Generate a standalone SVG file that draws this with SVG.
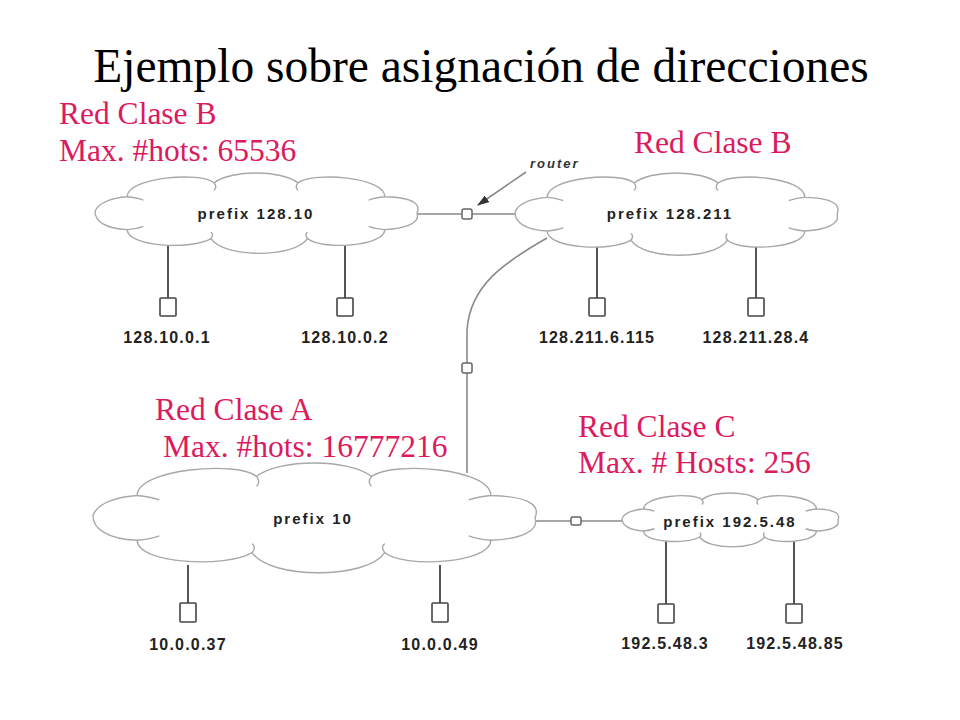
<svg xmlns="http://www.w3.org/2000/svg" width="960" height="720" viewBox="0 0 960 720">
<style>
.title{font-family:"Liberation Serif",serif;font-size:47.5px;fill:#000;text-anchor:middle}
.red{font-family:"Liberation Serif",serif;font-size:31.5px;fill:#dc1a5e}
.cloud{fill:#fff;stroke:#a8a8a8;stroke-width:1.4;vector-effect:non-scaling-stroke}
.crease{fill:none;stroke:#a8a8a8;stroke-width:1.4;vector-effect:non-scaling-stroke}
.pfx{font-family:"Liberation Sans",Arial,sans-serif;font-size:15px;font-weight:bold;letter-spacing:2px;fill:#222;text-anchor:middle}
.ip{font-family:"Liberation Sans",Arial,sans-serif;font-size:16px;font-weight:bold;letter-spacing:1.2px;fill:#222;text-anchor:middle}
.host{fill:#fff;stroke:#444;stroke-width:1.6}
.drop{stroke:#555;stroke-width:2;fill:none}
.link{stroke:#8a8a8a;stroke-width:1.6;fill:none}
.rtr{fill:#fff;stroke:#666;stroke-width:1.5}
.lbl{font-family:"Liberation Sans",Arial,sans-serif;font-size:13px;font-weight:bold;font-style:italic;letter-spacing:2px;fill:#333}
</style>
<defs>
<marker id="ah" markerWidth="12" markerHeight="8" refX="11" refY="4" orient="auto" markerUnits="userSpaceOnUse">
<path d="M0,0 L12,4 L0,8 Z" fill="#333"/>
</marker>
</defs>

<text class="title" x="481" y="82">Ejemplo sobre asignación de direcciones</text>

<g id="connectors">
<path class="link" d="M417,214 L515,214"/>
<path class="link" d="M547,238 C505,262 470,285 467,330 L467,473"/>
<path class="link" d="M535,521 L622,521"/>
<path class="link" d="M526,172 L478,205" stroke="#555" marker-end="url(#ah)"/>
<path class="drop" d="M168,245 V298 M345,245 V298 M597,245 V298 M756,245 V298 M188,565 V603 M440,565 V603 M666,540 V604 M794,540 V604"/>
</g>

<g id="net-128-10">
<g transform="translate(95,173) scale(3.22,0.82)">
<path class="cloud" d="M0,47 C1,35 6,30 10,29 C10,5 33,-2 37,12 C42,-4 58,-4 63,12 C68,-2 90,5 90,29 C100,30 101,40 100,49 C101,60 97,68 90,69 C90,90 70,94 66,80 C62,104 40,104 36,80 C30,94 10,90 10,69 C3,68 0,58 0,47 Z"/>
<path class="crease" d="M37,12 q1,5 0,9 M63,12 q-1,5 0,9 M10,29 q3,1 5,4 M90,29 q-3,1 -5,4 M36,80 q1,-5 0,-8 M66,80 q-1,-5 0,-8 M10,69 q3,-1 5,-4 M90,69 q-3,-1 -5,-4"/>
</g>
<text class="pfx" x="256" y="219">prefix 128.10</text>
</g>

<g id="net-128-211">
<g transform="translate(515,173) scale(3.22,0.84)">
<path class="cloud" d="M0,47 C1,35 6,30 10,29 C10,5 33,-2 37,12 C42,-4 58,-4 63,12 C68,-2 90,5 90,29 C100,30 101,40 100,49 C101,60 97,68 90,69 C90,90 70,94 66,80 C62,104 40,104 36,80 C30,94 10,90 10,69 C3,68 0,58 0,47 Z"/>
<path class="crease" d="M37,12 q1,5 0,9 M63,12 q-1,5 0,9 M10,29 q3,1 5,4 M90,29 q-3,1 -5,4 M36,80 q1,-5 0,-8 M66,80 q-1,-5 0,-8 M10,69 q3,-1 5,-4 M90,69 q-3,-1 -5,-4"/>
</g>
<text class="pfx" x="670" y="219">prefix 128.211</text>
</g>

<g id="net-10">
<g transform="translate(93,463) scale(4.42,1.12)">
<path class="cloud" d="M0,47 C1,35 6,30 10,29 C10,5 33,-2 37,12 C42,-4 58,-4 63,12 C68,-2 90,5 90,29 C100,30 101,40 100,49 C101,60 97,68 90,69 C90,90 70,94 66,80 C62,104 40,104 36,80 C30,94 10,90 10,69 C3,68 0,58 0,47 Z"/>
<path class="crease" d="M37,12 q1,5 0,9 M63,12 q-1,5 0,9 M10,29 q3,1 5,4 M90,29 q-3,1 -5,4 M36,80 q1,-5 0,-8 M66,80 q-1,-5 0,-8 M10,69 q3,-1 5,-4 M90,69 q-3,-1 -5,-4"/>
</g>
<text class="pfx" x="313" y="524">prefix 10</text>
</g>

<g id="net-192-5-48">
<g transform="translate(622,493) scale(2.16,0.55)">
<path class="cloud" d="M0,47 C1,35 6,30 10,29 C10,5 33,-2 37,12 C42,-4 58,-4 63,12 C68,-2 90,5 90,29 C100,30 101,40 100,49 C101,60 97,68 90,69 C90,90 70,94 66,80 C62,104 40,104 36,80 C30,94 10,90 10,69 C3,68 0,58 0,47 Z"/>
<path class="crease" d="M37,12 q1,5 0,9 M63,12 q-1,5 0,9 M10,29 q3,1 5,4 M90,29 q-3,1 -5,4 M36,80 q1,-5 0,-8 M66,80 q-1,-5 0,-8 M10,69 q3,-1 5,-4 M90,69 q-3,-1 -5,-4"/>
</g>
<text class="pfx" x="730" y="527">prefix 192.5.48</text>
</g>

<g id="routers">
<rect class="rtr" x="462" y="209" width="10" height="10" rx="2"/>
<rect class="rtr" x="462" y="363" width="10" height="10" rx="2"/>
<rect class="rtr" x="571" y="517" width="10" height="8" rx="1.5"/>
<text class="lbl" x="530" y="168">router</text>
</g>

<g id="hosts">
<rect class="host" x="160" y="298" width="16" height="18" rx="1"/>
<rect class="host" x="337" y="298" width="16" height="18" rx="1"/>
<rect class="host" x="589" y="298" width="16" height="18" rx="1"/>
<rect class="host" x="748" y="298" width="16" height="18" rx="1"/>
<rect class="host" x="180" y="603" width="16" height="19" rx="1"/>
<rect class="host" x="432" y="603" width="16" height="19" rx="1"/>
<rect class="host" x="658" y="604" width="16" height="19" rx="1"/>
<rect class="host" x="786" y="604" width="16" height="19" rx="1"/>
<text class="ip" x="167" y="343">128.10.0.1</text>
<text class="ip" x="345" y="343">128.10.0.2</text>
<text class="ip" x="597" y="343">128.211.6.115</text>
<text class="ip" x="756" y="343">128.211.28.4</text>
<text class="ip" x="188" y="650">10.0.0.37</text>
<text class="ip" x="440" y="650">10.0.0.49</text>
<text class="ip" x="665" y="649">192.5.48.3</text>
<text class="ip" x="795" y="649">192.5.48.85</text>
</g>

<g id="labels">
<text class="red" x="59" y="124">Red Clase B</text>
<text class="red" x="59" y="161">Max. #hots: 65536</text>
<text class="red" x="634" y="153">Red Clase B</text>
<text class="red" x="155" y="420">Red Clase A</text>
<text class="red" x="163" y="457">Max. #hots: 16777216</text>
<text class="red" x="578" y="437">Red Clase C</text>
<text class="red" x="578" y="473">Max. # Hosts: 256</text>
</g>
</svg>
